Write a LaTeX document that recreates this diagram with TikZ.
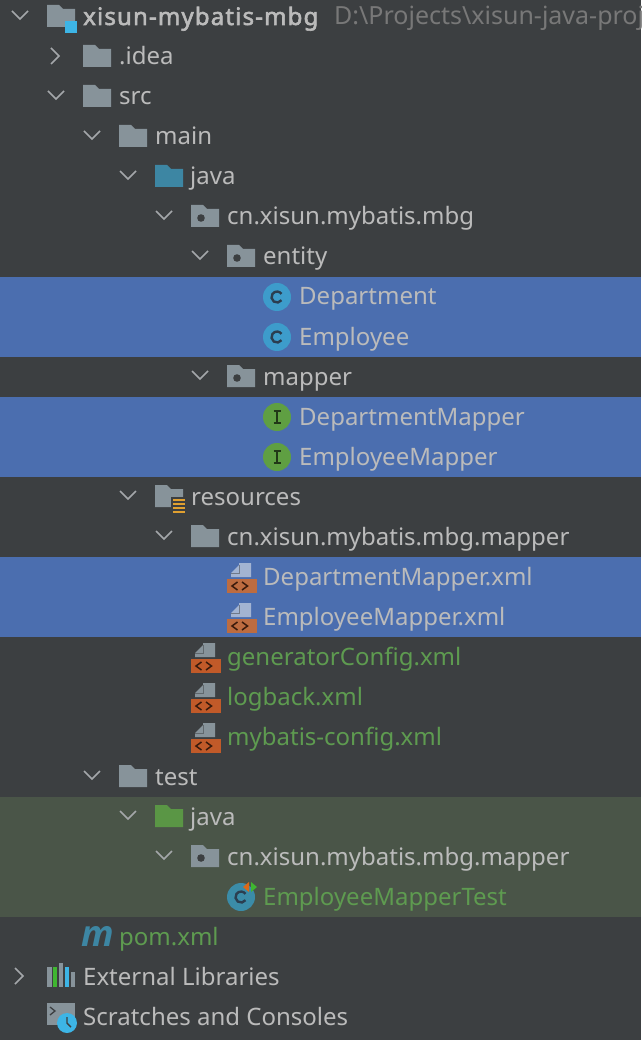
\documentclass[tikz,border=0pt]{standalone}
\usepackage{fontspec}
\setmainfont{Noto Sans}
\newfontfamily\pomfont{Open Sans}
\newfontfamily\projfont[FakeBold=2.4,LetterSpace=4.8]{Noto Sans}
\usepackage{xcolor}
\usetikzlibrary{positioning}
\definecolor{panelbg}{HTML}{3C3F41}
\definecolor{selblue}{HTML}{4B6EAF}
\definecolor{testbg}{HTML}{4A5548}
\definecolor{labelgrey}{HTML}{BBBBBB}
\definecolor{labelgreen}{HTML}{5E9B50}
\definecolor{pathgrey}{HTML}{787878}
\definecolor{foldergrey}{HTML}{87939A}
\definecolor{folderteal}{HTML}{3D86A3}
\definecolor{foldergreen}{HTML}{5A9645}
\definecolor{skyblue}{HTML}{3DB5E6}
\definecolor{classblue}{HTML}{3D9CCB}
\definecolor{classdark}{HTML}{2B3E50}
\definecolor{testclass}{HTML}{3B8CA8}
\definecolor{ifacegreen}{HTML}{5F9F42}
\definecolor{xmlorange}{HTML}{C15A29}
\definecolor{xmlsel}{HTML}{BD6C40}
\definecolor{papersel}{HTML}{A3B4D2}
\definecolor{chevgrey}{HTML}{A4A7AA}
\definecolor{resbar}{HTML}{E0A030}
\colorlet{xmlcol}{xmlorange}

\begin{document}
\begin{tikzpicture}[x=1pt,y=-1pt]
\tikzset{
	rowtext/.style = {anchor=base west,inner sep=0pt,font=\fontsize{24}{30}\selectfont,text=labelgrey},
	greentext/.style = {rowtext,text=labelgreen},
	pics/chevdown/.style = {code={\draw[chevgrey,line width=1.7pt] (-8,-5) -- (0,3) -- (8,-5);}},
	pics/chevright/.style = {code={\draw[chevgrey,line width=1.7pt] (-4,-8) -- (4,0) -- (-4,8);}},
	pics/foldericon/.style = {code={\fill (0,-11) -- (12,-11) -- (16,-7) -- (28,-7) -- (28,11) -- (0,11) -- cycle;}},
	pics/pkgicon/.style = {code={
		\fill[foldergrey] (0,-11) -- (12,-11) -- (16,-7) -- (28,-7) -- (28,11) -- (0,11) -- cycle;
		\fill[panelbg] (10,2) circle (3.8);}},
	pics/classicon/.style = {code={
		\fill (0,1) circle (14);
		\draw[classdark,line width=2.4pt] (4.5,4.2) arc (35:325:5.5);}},
	pics/ifaceicon/.style = {code={
		\fill[ifacegreen] (0,1) circle (14);
		\draw[black!65!ifacegreen,line width=2pt] (-3.5,-5) -- (3.5,-5) (0,-5) -- (0,7) (-3.5,7) -- (3.5,7);}},
	pics/xmlicon/.style = {code={
		\fill (12,-13) -- (24,-13) -- (24,1) -- (4,1) -- (4,-3) -- (12,-11) -- cycle;
		\draw[panelbg,line width=1pt,opacity=0.5] (12,-11) -- (12,-3) -- (4,-3);
		\fill[xmlcol] (0,3) rectangle (30,17);
		\draw[black!70!xmlorange,line width=1.5pt] (10.5,6) -- (5,10) -- (10.5,14) (15,6) -- (20.5,10) -- (15,14);}}
}
% row backgrounds
\fill[panelbg] (0,0) rectangle (641,1040);
\useasboundingbox (0,0) rectangle (641,1040);
\fill[selblue] (0,277) rectangle (641,357);
\fill[selblue] (0,397) rectangle (641,477);
\fill[selblue] (0,557) rectangle (641,637);
\fill[testbg] (0,797) rectangle (641,917);
% chevrons
\pic at (20,16) {chevdown};
\pic at (55,56) {chevright};
\pic at (56,96) {chevdown};
\pic at (92,136) {chevdown};
\pic at (128,176) {chevdown};
\pic at (164,216) {chevdown};
\pic at (200,256) {chevdown};
\pic at (200,376) {chevdown};
\pic at (128,496) {chevdown};
\pic at (164,536) {chevdown};
\pic at (92,776) {chevdown};
\pic at (128,816) {chevdown};
\pic at (164,856) {chevdown};
\pic at (19,976) {chevright};
% folders
\pic[fill=foldergrey] at (47,16) {foldericon};
\fill[skyblue] (65,21) rectangle (77,33);
\pic[fill=foldergrey] at (83,56) {foldericon};
\pic[fill=foldergrey] at (83,96) {foldericon};
\pic[fill=foldergrey] at (119,136) {foldericon};
\pic[fill=folderteal] at (155,176) {foldericon};
\pic at (191,216) {pkgicon};
\pic at (227,256) {pkgicon};
\pic at (227,376) {pkgicon};
\pic[fill=foldergrey] at (155,496) {foldericon};
\fill[panelbg] (171,497) rectangle (186,514);
\foreach \barY in {499,503,507,511}
	\fill[resbar] (173,\barY) rectangle (185,\barY+2);
\pic[fill=foldergrey] at (191,536) {foldericon};
\pic[fill=foldergrey] at (119,776) {foldericon};
\pic[fill=foldergreen] at (155,816) {foldericon};
\pic at (191,856) {pkgicon};
% classes and interfaces
\pic[fill=classblue] at (277,296) {classicon};
\pic[fill=classblue] at (277,336) {classicon};
\pic at (277,416) {ifaceicon};
\pic at (277,456) {ifaceicon};
\pic[fill=testclass] at (241,896) {classicon};
\fill[xmlorange!60!orange] (249,882) -- (243,887) -- (249,892) -- cycle;
\fill[foldergreen!70!green] (251,882) -- (257,887) -- (251,892) -- cycle;
% xml files
\colorlet{xmlcol}{xmlsel}
\pic[fill=papersel] at (227,576) {xmlicon};
\pic[fill=papersel] at (227,616) {xmlicon};
\colorlet{xmlcol}{xmlorange}
\pic[fill=foldergrey] at (191,656) {xmlicon};
\pic[fill=foldergrey] at (191,696) {xmlicon};
\pic[fill=foldergrey] at (191,736) {xmlicon};
% bottom icons
\node[anchor=base west,inner sep=0pt,text=folderteal,font=\pomfont\fontsize{36}{36}\selectfont\bfseries\itshape] (pomicon) at (81,946) {m};
\fill[foldergrey] (47,967) rectangle (52,987);
\fill[foldergreen!70!green] (53,967) rectangle (57,987);
\fill[foldergrey] (59,963) rectangle (63,987);
\fill[skyblue] (65,967) rectangle (69,987);
\fill[foldergrey] (71,972) rectangle (75,987);
\fill[foldergrey] (47,1003) rectangle (75,1025);
\draw[panelbg,line width=1.3pt] (50,1007) -- (55,1011) -- (50,1015);
\fill[skyblue] (67,1023) circle (10);
\draw[panelbg,line width=1.4pt] (67,1017) -- (67,1023) -- (71,1027);
% labels
\node[rowtext,font=\projfont\fontsize{24}{30}\selectfont] (project) at (83,25) {xisun-mybatis-mbg};
\node[rowtext,text=pathgrey,font=\fontsize{25}{30}\selectfont] (projpath) at (334,25) {D:\textbackslash Projects\textbackslash xisun-java-proje};
\node[rowtext] (idea) at (119,65) {.idea};
\node[rowtext] (src) at (119,105) {src};
\node[rowtext] (main) at (155,145) {main};
\node[rowtext] (mainjava) at (190,185) {java};
\node[rowtext] (pkg) at (227,225) {cn.xisun.mybatis.mbg};
\node[rowtext] (entity) at (263,265) {entity};
\node[rowtext] (department) at (299,305) {Department};
\node[rowtext] (employee) at (299,345) {Employee};
\node[rowtext] (mapper) at (263,385) {mapper};
\node[rowtext] (deptmapper) at (299,425) {DepartmentMapper};
\node[rowtext] (empmapper) at (299,465) {EmployeeMapper};
\node[rowtext] (resources) at (191,505) {resources};
\node[rowtext] (respkg) at (227,545) {cn.xisun.mybatis.mbg.mapper};
\node[rowtext] (deptxml) at (263,585) {DepartmentMapper.xml};
\node[rowtext] (empxml) at (263,625) {EmployeeMapper.xml};
\node[greentext] (generator) at (227,665) {generatorConfig.xml};
\node[greentext] (logback) at (227,705) {logback.xml};
\node[greentext] (mybatisconf) at (227,745) {mybatis-config.xml};
\node[rowtext] (test) at (155,785) {test};
\node[rowtext] (testjava) at (190,825) {java};
\node[rowtext] (testpkg) at (227,865) {cn.xisun.mybatis.mbg.mapper};
\node[greentext] (emptest) at (263,905) {EmployeeMapperTest};
\node[greentext] (pom) at (119,945) {pom.xml};
\node[rowtext] (extlibs) at (83,985) {External Libraries};
\node[rowtext] (scratches) at (83,1025) {Scratches and Consoles};
\end{tikzpicture}
\end{document}
